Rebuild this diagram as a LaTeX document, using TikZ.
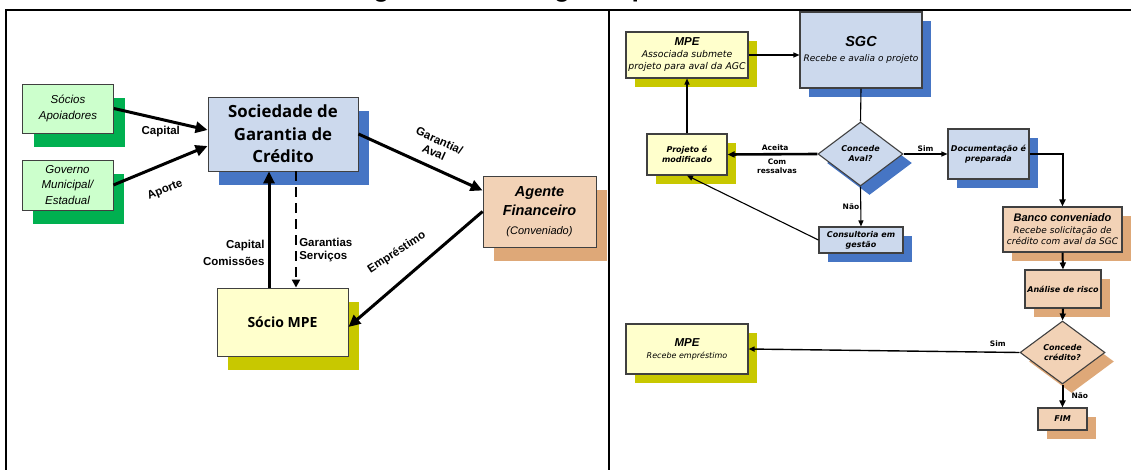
\documentclass[tikz,border=0pt]{standalone}
\usepackage{fontspec}
\setmainfont{Liberation Sans}
\newfontfamily\verd{DejaVu Sans}
\newfontfamily\tah{Open Sans}
\newfontfamily\calib{Carlito}
\usetikzlibrary{arrows.meta,shapes.geometric,shadows,positioning}
\definecolor{mint}{RGB}{204,255,204}
\definecolor{shgreen}{RGB}{0,176,80}
\definecolor{lblue}{RGB}{204,217,237}
\definecolor{shblue}{RGB}{70,117,196}
\definecolor{peach}{RGB}{242,210,182}
\definecolor{tan}{RGB}{222,168,120}
\definecolor{lyellow}{RGB}{255,255,204}
\definecolor{olive}{RGB}{200,200,0}

\begin{document}
\begin{tikzpicture}[x=1pt, y=-1pt,
  N/.style={
    draw=black!75, line width=0.9pt, align=center, inner sep=1pt},
  NL/.style={N, general shadow={fill=#1, shadow xshift=11pt, shadow yshift=-14pt}},
  NR/.style={N, line width=1.1pt, general shadow={fill=#1, shadow xshift=9pt, shadow yshift=-9pt}},
  Dia/.style={NR=#1, diamond, inner sep=0pt},
  lbl/.style={font=\fontsize{11.5}{13}\selectfont\bfseries, inner sep=1pt},
  rlbl/.style={font=\verd\fontsize{7.5}{9}\selectfont\bfseries, inner sep=1pt},
  rbox/.style={font=\verd\fontsize{8}{10}\selectfont\bfseries\itshape},
  arrL/.style={-{Triangle[length=12pt,width=11pt]}, line width=3pt},
  arrR/.style={-{Triangle[length=6pt,width=5pt]}, line width=1.1pt},
  arrM/.style={-{Triangle[length=7pt,width=6pt]}, line width=2pt},
]
\useasboundingbox (0,0) rectangle (1131,470);

%% title and frame
\node[font=\calib\bfseries\fontsize{28.5}{30}\selectfont, anchor=base, inner sep=0pt]
  (title) at (611,-2) {Figura 4: Modelagem Operacional das SGCs};
\draw[line width=2.2pt] (6,470) -- (6,10) -- (1131,10);
\draw[line width=2.2pt] (609,10) -- (609,470);

%% LEFT PANEL
\node[NL=shgreen, fill=mint, minimum width=91pt, minimum height=49pt,
      font=\fontsize{11.5}{16}\selectfont\itshape] (soc) at (68,108.5)
  {Sócios\\Apoiadores};
\node[NL=shgreen, fill=mint, minimum width=91pt, minimum height=50pt,
      font=\fontsize{11.5}{15.5}\selectfont\itshape] (gov) at (67.5,185)
  {Governo\\Municipal/\\Estadual};
\node[NL=shblue, fill=lblue, minimum width=150pt, minimum height=74pt,
      font=\tah\fontsize{16.8}{22.5}\selectfont\bfseries] (sgcL) at (283,134)
  {Sociedade de\\Garantia de\\Crédito};
\node[NL=tan, fill=peach, minimum width=113pt, minimum height=71pt,
      font=\fontsize{14.5}{19}\selectfont\bfseries\itshape] (agente) at (539.5,211.5)
  {Agente\\Financeiro\\{\fontsize{11}{19}\selectfont\mdseries(Conveniado)}};
\node[NL=olive, fill=lyellow, minimum width=131pt, minimum height=68pt,
      font=\tah\fontsize{14}{17}\selectfont\bfseries] (socio) at (282.5,322)
  {Sócio MPE};

\draw[arrL] (soc.east) -- node[lbl, below=4pt]{Capital} ([yshift=4pt]sgcL.west);
\draw[arrL] (gov.east) -- node[lbl, sloped, below=17pt, pos=0.45]{Aporte} ([yshift=-12pt]sgcL.west);
\draw[arrL] (sgcL.east) -- node[lbl, sloped, above=8pt, pos=0.56, align=center]
  {Garantia/\\Aval} ([yshift=21pt]agente.west);
\draw[arrL] (agente.west) -- node[lbl, pos=0.64, yshift=33pt, rotate=33]{Empréstimo}
  ([yshift=-5pt]socio.east);
\draw[arrL] ([xshift=-13.5pt]socio.north) -- node[lbl, left=2pt, pos=0.3, align=right]
  {Capital\\[4pt]Comissões} ([xshift=-14pt]sgcL.south);
\draw[-{Triangle[length=8pt,width=8pt]}, line width=2.5pt, dash pattern=on 10pt off 6pt]
  ([xshift=13pt]sgcL.south) -- node[lbl, right=1pt, pos=0.68, align=left]
  {Garantias\\Serviços} ([xshift=13.5pt]socio.north);

%% RIGHT PANEL
\node[NR=olive, fill=lyellow, minimum width=122pt, minimum height=46pt,
      font=\verd\fontsize{9.3}{12}\selectfont\itshape] (mpeA) at (687,55)
  {{\rmfamily\fontsize{11.5}{12}\selectfont\bfseries MPE}\\Associada submete\\projeto para aval da AGC};
\node[NR=shblue, fill=lblue, minimum width=122pt, minimum height=76pt,
      font=\verd\fontsize{9}{15}\selectfont\itshape] (sgcR) at (861,50)
  {{\rmfamily\fontsize{14.5}{15}\selectfont\bfseries SGC}\\Recebe e avalia o projeto};
\node[Dia=shblue, fill=lblue, minimum width=85pt, minimum height=64pt, rbox] (aval)
  at (860.5,154) {Concede\\Aval?};
\node[NR=olive, fill=lyellow, minimum width=80pt, minimum height=41pt, rbox] (proj)
  at (687,154.5) {Projeto é\\modificado};
\node[NR=shblue, fill=lblue, minimum width=84pt, minimum height=26pt, rbox] (consult)
  at (861,240) {Consultoria em\\gestão};
\node[NR=shblue, fill=lblue, minimum width=81pt, minimum height=50pt, rbox] (doc)
  at (988.5,154) {Documentação é\\preparada};
\node[NR=tan, fill=peach, minimum width=119pt, minimum height=45pt,
      font=\verd\fontsize{9}{11.5}\selectfont\itshape] (banco) at (1062.5,229.5)
  {{\rmfamily\fontsize{11}{12}\selectfont\bfseries Banco conveniado}\\Recebe solicitação de\\crédito com aval da SGC};
\node[NR=tan, fill=peach, minimum width=76pt, minimum height=38pt, rbox] (analise)
  at (1063,289) {Análise de risco};
\node[Dia=tan, fill=peach, minimum width=85pt, minimum height=63pt, rbox] (cred)
  at (1062.5,352.5) {Concede\\crédito?};
\node[NR=tan, fill=peach, minimum width=49pt, minimum height=22pt, rbox] (fim)
  at (1062.5,419) {FIM};
\node[NR=olive, fill=lyellow, minimum width=122pt, minimum height=50pt,
      font=\verd\fontsize{8}{12}\selectfont\itshape] (mpeB) at (687,349)
  {{\rmfamily\fontsize{11.5}{12}\selectfont\bfseries MPE}\\Recebe empréstimo};

\draw[arrR] (mpeA.east) -- (mpeA.east -| sgcR.west);
\draw[line width=1.1pt] (sgcR.south) -- (aval.north);
\draw[-{Triangle[length=7pt,width=6pt]}, line width=2.6pt] (aval.west)
  -- node[rlbl, above=1pt, pos=0.47]{Aceita}
     node[rlbl, below=2pt, pos=0.45, align=center]{Com\\ressalvas} (proj.east);
\draw[arrR] (proj.north) -- (mpeA.south);
\draw[arrR] (aval.south) -- node[rlbl, left=0pt]{Não} (consult.north);
\draw[arrR] (consult.west) -- (proj.south);
\draw[arrR] (aval.east) -- node[rlbl, above=1pt]{Sim} (doc.west);
\draw[arrM] (doc.east) -| (banco.north);
\draw[arrM] (banco.south) -- (analise.north);
\draw[arrM] (analise.south) -- (cred.north);
\draw[arrR, line width=1.4pt] (cred.west) -- node[rlbl, above=4pt, pos=0.08]{Sim} (mpeB.east);
\draw[arrM] (cred.south) -- node[rlbl, right=7pt]{Não} (fim.north);

\end{tikzpicture}
\end{document}
